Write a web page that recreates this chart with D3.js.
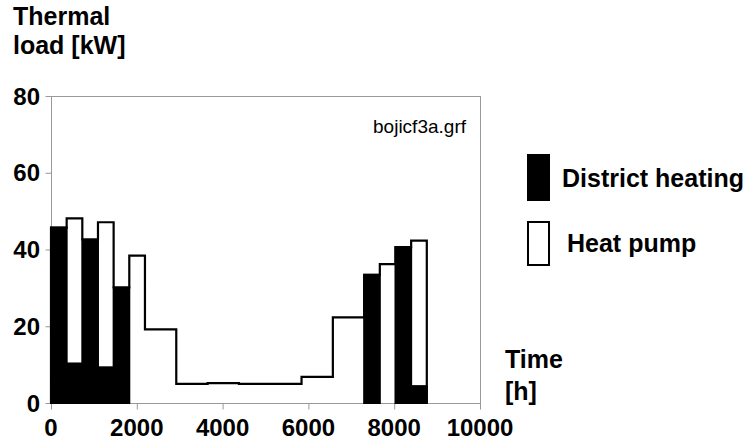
<!DOCTYPE html>
<html>
<head>
  <meta charset="utf-8">
  <style>
    body {
      margin: 0;
      background: #fff;
    }

    svg text {
      font-family: "Liberation Sans", Arial, sans-serif;
      fill: #000;
    }

    .bold {
      font-weight: bold;
    }

    .frame {
      fill: none;
      stroke: #999;
      stroke-width: 1;
    }

    .hp-area {
      fill: #fff;
    }

    .hp-line {
      fill: none;
      stroke: #000;
      stroke-width: 2.2;
    }

    .dh {
      fill: #000;
      stroke: #000;
      stroke-width: 2;
    }
  </style>
  <script src="https://cdn.jsdelivr.net/npm/d3@7"></script>
</head>

<body>
  <script>
    // time intervals [h] (start of each step), last one ends at 8760
    const intervalStart = [0, 365, 730, 1095, 1460, 1825, 2190, 2920, 3650, 4380, 5110, 5840, 6570, 7300, 7665, 8030, 8395];
    const intervalEnd = 8760;

    // district heating load [kW] per interval
    const districtHeating = [45.7, 10.3, 42.6, 9.3, 30.1, 0, 0, 0, 0, 0, 0, 0, 0, 33.4, 0, 40.6, 4.4];
    // heat pump load [kW] per interval, stacked on top of district heating
    const heatPump = [0, 37.8, 0, 37.8, 0, 38.4, 19.2, 5.0, 5.2, 5.0, 5.0, 6.8, 22.3, 0, 36.2, 0, 37.9];

    const xTicks = [0, 2000, 4000, 6000, 8000, 10000];
    const yTicks = [0, 20, 40, 60, 80];

    const width = 750;
    const height = 444;
    const plotLeft = 51, plotRight = 480, plotTop = 96, plotBottom = 403;

    const svg = d3.select('body')
      .append('svg')
      .attr('width', width)
      .attr('height', height);

    const x = d3.scaleLinear().domain([0, 10000]).range([plotLeft, plotRight]);
    const y = d3.scaleLinear().domain([0, 80]).range([plotBottom, plotTop]);

    const rows = intervalStart.map((s, i) => ({
      start: s,
      end: i < intervalStart.length - 1 ? intervalStart[i + 1] : intervalEnd,
      dh: districtHeating[i],
      hp: heatPump[i]
    }));

    const stacked = d3.stack().keys(['dh', 'hp'])(rows);
    const totals = stacked[1].map(d => d[1]);

    // plot frame
    svg.append('rect')
      .attr('class', 'frame')
      .attr('x', plotLeft + 0.5)
      .attr('y', plotTop + 0.5)
      .attr('width', plotRight - plotLeft)
      .attr('height', plotBottom - plotTop);

    // ticks
    svg.append('g')
      .attr('transform', `translate(0,${plotBottom + 0.5})`)
      .call(d3.axisBottom(x).tickValues(xTicks).tickSize(6).tickFormat(''))
      .call(g => g.select('.domain').remove())
      .call(g => g.selectAll('line').attr('stroke', '#999'));

    svg.append('g')
      .attr('transform', `translate(${plotLeft + 0.5},0)`)
      .call(d3.axisLeft(y).tickValues(yTicks).tickSize(6).tickFormat(''))
      .call(g => g.select('.domain').remove())
      .call(g => g.selectAll('line').attr('stroke', '#999'));

    // tick labels
    svg.selectAll('.xlab')
      .data(xTicks)
      .enter().append('text')
      .attr('class', 'bold')
      .attr('x', d => x(d))
      .attr('y', 436)
      .attr('text-anchor', 'middle')
      .style('font-size', '24px')
      .text(d => d);

    svg.selectAll('.ylab')
      .data(yTicks)
      .enter().append('text')
      .attr('class', 'bold')
      .attr('x', 40)
      .attr('y', d => y(d) + 8.5)
      .attr('text-anchor', 'end')
      .style('font-size', '24px')
      .text(d => d);

    // heat pump: white area with stepped outline
    const pts = rows.map((r, i) => [r.start, totals[i]]);
    pts.push([intervalEnd, totals[totals.length - 1]]);

    svg.append('path')
      .datum(pts)
      .attr('class', 'hp-area')
      .attr('d', d3.area()
        .x(d => x(d[0]))
        .y0(y(0))
        .y1(d => y(d[1]))
        .curve(d3.curveStepAfter));

    const linePts = [[0, 0]].concat(pts, [[intervalEnd, 0]]);
    svg.append('path')
      .datum(linePts)
      .attr('class', 'hp-line')
      .attr('d', d3.line()
        .x(d => x(d[0]))
        .y(d => y(d[1]))
        .curve(d3.curveStepAfter));

    // district heating bars
    svg.selectAll('.dh')
      .data(rows.filter(r => r.dh > 0))
      .enter().append('rect')
      .attr('class', 'dh')
      .attr('x', d => x(d.start))
      .attr('y', d => y(d.dh))
      .attr('width', d => x(d.end) - x(d.start))
      .attr('height', d => y(0) - y(d.dh));

    // file name tag
    svg.append('text')
      .attr('x', 466)
      .attr('y', 133)
      .attr('text-anchor', 'end')
      .style('font-size', '19px')
      .text('bojicf3a.grf');

    // axis titles
    const yTitle = svg.append('text')
      .attr('class', 'bold')
      .style('font-size', '25px');
    yTitle.append('tspan').attr('x', 13).attr('y', 25).text('Thermal');
    yTitle.append('tspan').attr('x', 13).attr('y', 54).text('load [kW]');

    const xTitle = svg.append('text')
      .attr('class', 'bold')
      .style('font-size', '25px');
    xTitle.append('tspan').attr('x', 505).attr('y', 368).text('Time');
    xTitle.append('tspan').attr('x', 505).attr('y', 400).text('[h]');

    // legend
    svg.append('rect')
      .attr('x', 528).attr('y', 155)
      .attr('width', 21).attr('height', 45)
      .attr('fill', '#000').attr('stroke', '#000').attr('stroke-width', 2);
    svg.append('text')
      .attr('class', 'bold')
      .attr('x', 562).attr('y', 187)
      .style('font-size', '25px')
      .text('District heating');

    svg.append('rect')
      .attr('x', 528).attr('y', 222)
      .attr('width', 21).attr('height', 43)
      .attr('fill', '#fff').attr('stroke', '#000').attr('stroke-width', 2);
    svg.append('text')
      .attr('class', 'bold')
      .attr('x', 567).attr('y', 252)
      .style('font-size', '25px')
      .text('Heat pump');
  </script>
</body>
</html>
